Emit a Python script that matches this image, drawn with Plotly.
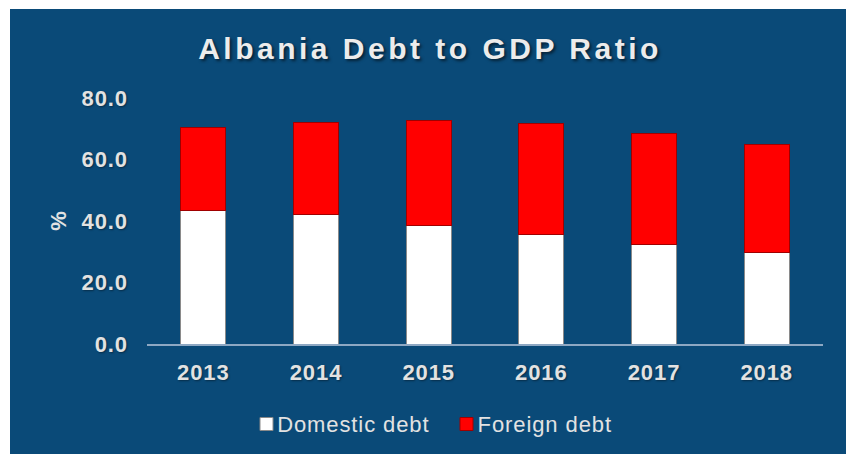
import plotly.graph_objects as go

# Debt to GDP, percent
years = ["2013", "2014", "2015", "2016", "2017", "2018"]
domestic_debt = [43.3, 42.2, 38.7, 35.5, 32.4, 29.7]
foreign_debt = [27.0, 29.7, 34.0, 36.2, 36.2, 35.1]
y_tick_values = [0, 20, 40, 60, 80]

PANEL = "#0a4a78"
TEXT = "#e2e2e2"
FONT = "Liberation Sans, Arial, sans-serif"
W, H = 846, 454
L, R, T, B = 147, 23, 98, 110
plot_w = W - L - R
plot_h = H - T - B

series = [
    ("Domestic debt", domestic_debt, "#ffffff", "#8a8a8a"),
    ("Foreign debt", foreign_debt, "#ff0000", "#a00000"),
]

fig = go.Figure()
for name, values, fill, edge in series:
    fig.add_bar(
        x=years, y=values, name=name, width=0.4, showlegend=False,
        marker=dict(color=fill, line=dict(color=edge, width=1)),
    )


def px_x(px):
    return (px - L) / plot_w


def px_y(py):
    return (H - B - py) / plot_h


# dark blue panel behind the whole chart
fig.add_shape(
    type="rect", xref="paper", yref="paper", layer="below",
    x0=px_x(10), x1=px_x(W + 5), y0=px_y(H + 5), y1=px_y(9),
    fillcolor=PANEL, line=dict(width=0),
)

# legend row: square key followed by its label
legend_keys = [(260, 281), (460, 481)]
for (sq_x, txt_x), (name, _, fill, edge) in zip(legend_keys, series):
    fig.add_shape(
        type="rect", xref="paper", yref="paper",
        x0=px_x(sq_x), x1=px_x(sq_x + 13), y0=px_y(430.5), y1=px_y(417.5),
        fillcolor=fill, line=dict(color=edge, width=1),
    )
    fig.add_annotation(
        text=name, xref="paper", yref="paper", showarrow=False,
        x=px_x(txt_x), xanchor="left", y=px_y(424), yanchor="middle",
        font=dict(size=22, color=TEXT),
    )

fig.update_layout(
    width=W, height=H, autosize=False,
    margin=dict(l=L, r=R, t=T, b=B, pad=0),
    paper_bgcolor="#ffffff", plot_bgcolor="rgba(0,0,0,0)",
    barmode="stack",
    font=dict(family=FONT, color=TEXT),
    title=dict(
        text="Albania Debt to GDP Ratio",
        xref="container", x=430 / W, xanchor="center",
        yref="container", y=1 - 48 / H, yanchor="middle",
        font=dict(size=30, weight="bold", color="#ececec",
                  shadow="2px 2px 3px rgba(0,0,0,0.55)"),
    ),
    xaxis=dict(
        type="category", showgrid=False, zeroline=False,
        showline=True, linecolor="#8ea8c3", linewidth=2,
        ticks="", ticklabelstandoff=8,
        tickfont=dict(size=22, weight="bold", color=TEXT,
                      shadow="1px 1px 2px rgba(0,0,0,0.4)"),
    ),
    yaxis=dict(
        range=[0, 80], tickvals=y_tick_values, tickformat=".1f",
        showgrid=False, zeroline=False, showline=False,
        ticks="", ticklabelstandoff=18,
        tickfont=dict(size=22, weight="bold", color=TEXT,
                      shadow="1px 1px 2px rgba(0,0,0,0.4)"),
        title=dict(text="%", standoff=12,
                   font=dict(size=22, weight="bold", color=TEXT)),
    ),
    showlegend=False,
)

spacing_js = """
var gd = document.getElementById('{plot_id}');
gd.querySelectorAll('.gtitle').forEach(function(e){ e.style.letterSpacing = '3.5px'; });
gd.querySelectorAll('.xtick text, .ytick text, .annotation-text').forEach(function(e){ e.style.letterSpacing = '0.9px'; });
"""

fig.write_html("out.html", post_script=spacing_js)
